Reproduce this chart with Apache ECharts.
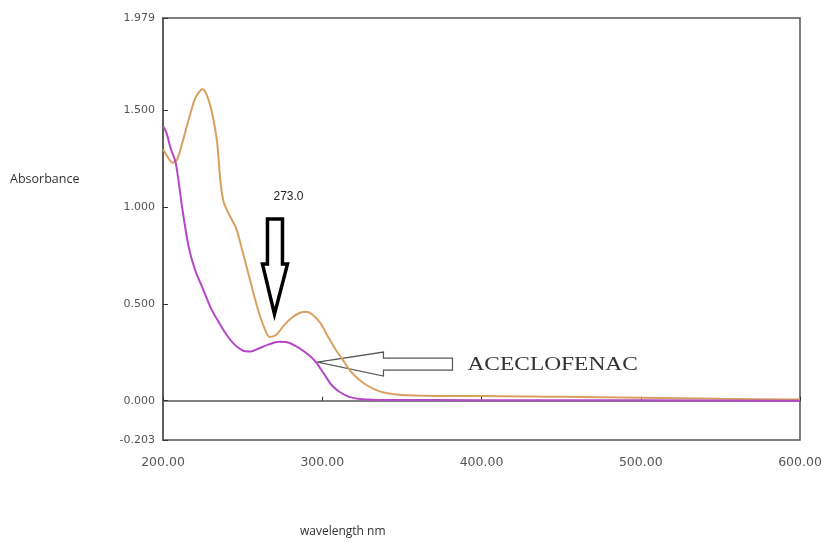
<!DOCTYPE html>
<html><head><meta charset="utf-8">
<script src="https://cdn.jsdelivr.net/npm/echarts@6/dist/echarts.min.js"></script>
<style>html,body{margin:0;padding:0;background:#fff}#c{width:827px;height:543px}</style>
</head><body><div id="c"></div>
<script>
const yTicks = [-0.203, 0, 0.5, 1, 1.5, 1.979];
const xTicks = [200, 300, 400, 500, 600];
const orangeWl  = [200,203,206,209,212,216,220,223,225,228,231,234,236,238,242,246,250,254.5,259,263,267,271,276,281,286,290,294,299,303,308,313,318,323,328,334,340,350,380,400,450,500,550,600];
const orangeAbs = [1.30,1.26,1.23,1.25,1.33,1.45,1.56,1.60,1.61,1.57,1.48,1.335,1.14,1.03,0.955,0.89,0.77,0.63,0.49,0.39,0.33,0.34,0.39,0.43,0.455,0.46,0.445,0.40,0.34,0.27,0.21,0.15,0.11,0.08,0.055,0.04,0.03,0.025,0.025,0.02,0.015,0.01,0.006];
const magentaWl  = [200,202,205,208,212,216,220,225,230,234,240,245,250,255,260,266,273,279,286,291,296,301,306,311,317,325,340,400,500,600];
const magentaAbs = [1.42,1.39,1.30,1.23,1.00,0.80,0.68,0.58,0.48,0.42,0.34,0.29,0.26,0.255,0.27,0.29,0.305,0.30,0.27,0.24,0.20,0.14,0.08,0.045,0.02,0.008,0.004,0.003,0.002,0.0];
const peakLabel = '273.0';
const compoundLabel = 'ACECLOFENAC';
const yTitle = 'Absorbance';
const xTitle = 'wavelength nm';

const chart = echarts.init(document.getElementById('c'), null, {renderer:'canvas'});
const pair = (xs, ys) => xs.map((x,i)=>[x, ys[i]]);
chart.setOption({
  animation:false,
  backgroundColor:'#fff',
  grid:{left:163,right:27,top:18,bottom:103,show:true,borderColor:'#555',borderWidth:1.5},
  xAxis:{type:'value',min:200,max:600,interval:100,
    axisLine:{show:true,lineStyle:{color:'#555',width:1.5}},
    axisTick:{show:true,inside:true,length:4,lineStyle:{color:'#333'}},
    splitLine:{show:false},
    axisLabel:{margin:16,fontSize:12.5,color:'#555',fontFamily:'DejaVu Sans',formatter:v=>v.toFixed(2)}},
  yAxis:{type:'value',min:-0.203,max:1.979,
    axisLine:{show:true,lineStyle:{color:'#555',width:1.5}},
    axisTick:{show:true,inside:true,length:5,customValues:yTicks,lineStyle:{color:'#333'}},
    splitLine:{show:false},
    axisLabel:{margin:8,fontSize:11,color:'#555',fontFamily:'DejaVu Sans',customValues:yTicks,formatter:v=>v.toFixed(3)}},
  series:[
    {type:'line',data:pair(orangeWl,orangeAbs),smooth:0.3,showSymbol:false,lineStyle:{color:'#d9a060',width:2}},
    {type:'line',data:pair(magentaWl,magentaAbs),smooth:0.3,showSymbol:false,lineStyle:{color:'#b548c8',width:2}}
  ]
});

// annotations anchored to data coordinates
const tipDown = chart.convertToPixel({gridIndex:0},[270,0.448]);
const tipLeft = chart.convertToPixel({gridIndex:0},[297,0.2]);
const dx = tipDown[0], dy = tipDown[1];
const lx = tipLeft[0], ly = tipLeft[1];
chart.setOption({graphic:[
  {type:'text',x:10,y:173,style:{text:yTitle,fill:'#333',font:'12.5px "Open Sans", sans-serif'}},
  {type:'text',x:300,y:526,style:{text:xTitle,fill:'#333',font:'12px "Open Sans", sans-serif'}},
  {type:'text',x:dx+14,y:dy-117,style:{text:peakLabel,fill:'#222',font:'12px "Liberation Sans Narrow", "Liberation Sans", sans-serif',align:'center',verticalAlign:'middle'}},
  {type:'polygon',shape:{points:[[dx-7,dy-95],[dx+8,dy-95],[dx+8,dy-50],[dx+13,dy-50],[dx,dy],[dx-12,dy-50],[dx-7,dy-50]]},
    style:{fill:'#fff',stroke:'#000',lineWidth:3.5}},
  {type:'polygon',shape:{points:[[lx,ly],[lx+66,ly-10],[lx+66,ly-4],[lx+135,ly-4],[lx+135,ly+8],[lx+66,ly+8],[lx+66,ly+14]]},
    style:{fill:'#fff',stroke:'#555',lineWidth:1.2}},
  {type:'text',x:lx+150,y:ly+3,scaleX:1.3,style:{text:compoundLabel,fill:'#333',font:'18px "Liberation Serif", serif',verticalAlign:'middle'}}
]});
</script></body></html>
